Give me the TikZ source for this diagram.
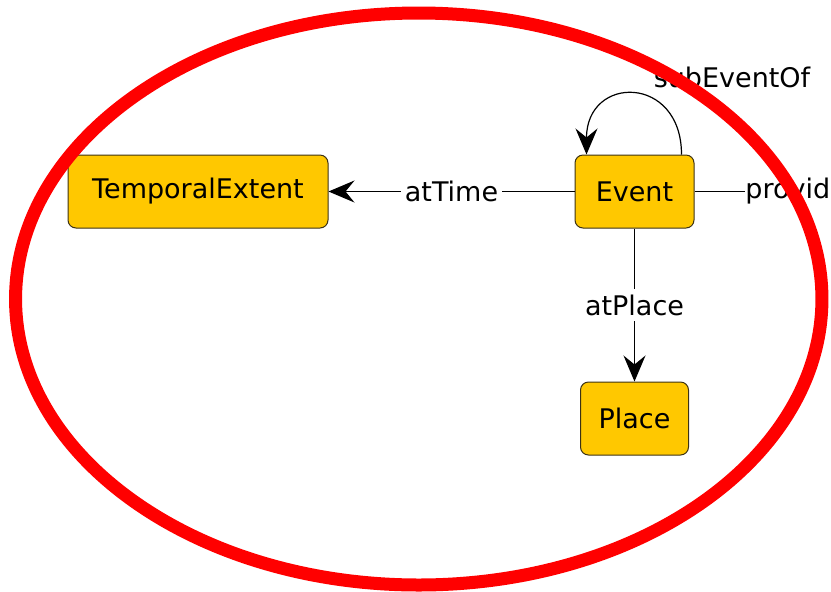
\documentclass[tikz,border=0pt]{standalone}
\usepackage{fontspec}
\setmainfont{DejaVu Sans}
\usetikzlibrary{positioning, arrows.meta}
\definecolor{classgold}{RGB}{255, 200, 0}
\definecolor{classline}{RGB}{60, 50, 20}
\definecolor{ringred}{RGB}{255, 0, 0}
\tikzset{
    classbox/.style={draw=classline, fill=classgold, rounded corners=4pt, line width=0.5pt,
        minimum height=36.5pt, inner sep=0pt, font=\fontsize{13.5}{16}\selectfont},
    proplabel/.style={fill=white, inner sep=2pt, font=\fontsize{13.5}{16}\selectfont},
    propline/.style={draw=black, line width=0.6pt},
    proparrow/.style={propline, -{Stealth[length=13pt, width=11pt, inset=4.5pt]}}
}

\begin{document}
\begin{tikzpicture}[x=0.5pt, y=-0.5pt]
                \useasboundingbox (0,0) rectangle (831,591);
                \clip (0,0) rectangle (831,591);

                % Classes
                \node[classbox, minimum width=130pt] (tmp) at (198,191.5) {TemporalExtent};
                \node[classbox, minimum width=59.5pt] (ev) at (634.5,191.5) {Event};
                \node[classbox, minimum width=54pt] (plc) at (634.5,418.5) {Place};

                % Properties
                \draw[proparrow] (ev) -- node[proplabel] {atTime} (tmp);
                \draw[proparrow] (ev) -- node[proplabel, inner sep=3pt] {atPlace} (plc);
                \coordinate (provend) at (745,191.5);
                \draw[propline] (ev.east) -- (provend);
                \node[proplabel, anchor=west, inner sep=0pt] (prov) at (provend) {provid};
                \draw[proparrow] ([xshift=23.5pt]ev.north) .. controls ([xshift=23.5pt,yshift=40pt]ev.north) and ([xshift=-24pt,yshift=40pt]ev.north) .. ([xshift=-24pt]ev.north);
                \node[proplabel] (sub) at (732,77) {subEventOf};

                % Ring
                \draw[ringred, line width=6.5pt] (418.75,299) ellipse [x radius=201.6pt, y radius=143pt];
            \end{tikzpicture}
\end{document}
